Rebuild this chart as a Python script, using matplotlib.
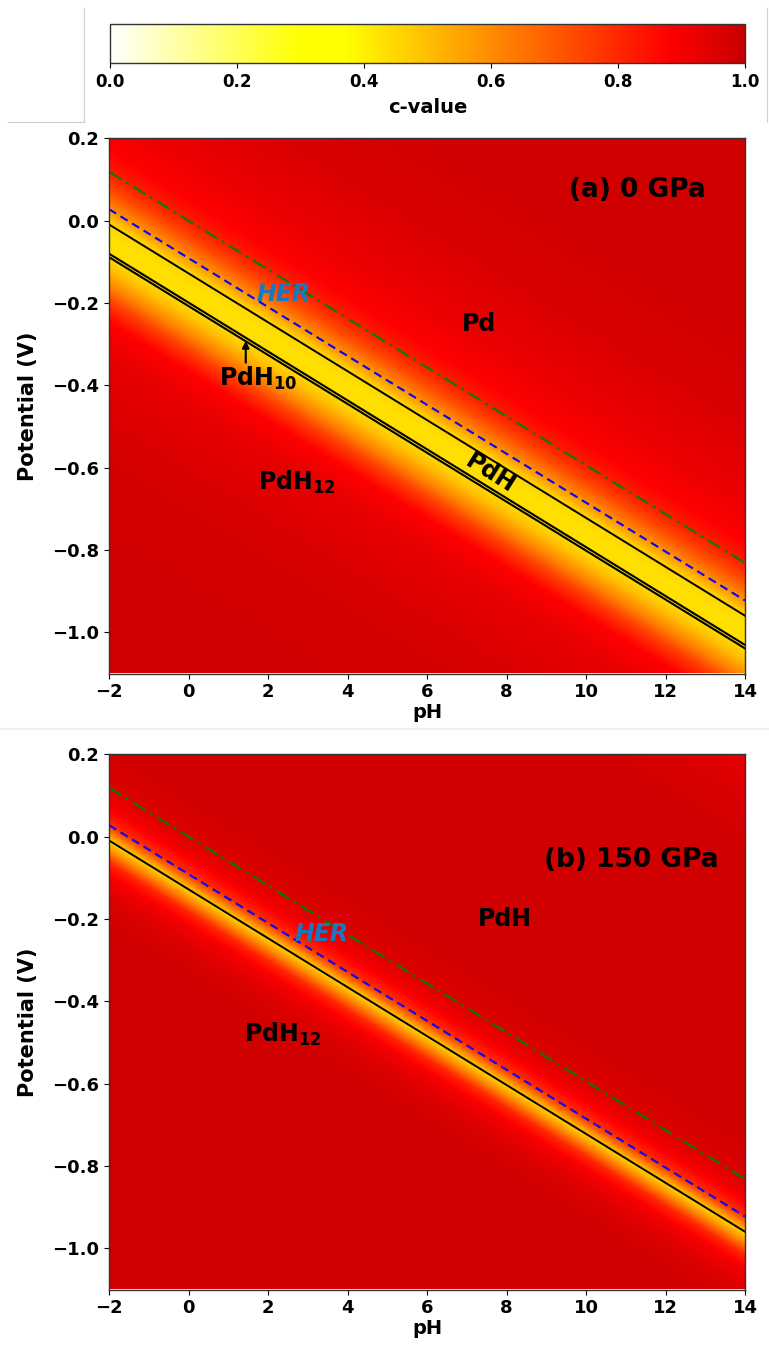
import numpy as np
import matplotlib
matplotlib.use("Agg")
import matplotlib.pyplot as plt
from matplotlib.colors import LinearSegmentedColormap
from matplotlib.lines import Line2D

# ---------------- data ----------------
ph_range = [-2, 14]
e_range = [-1.1, 0.2]
nernst_slope = 0.0594          # V per pH (lines E = b - slope*pH)

# line intercepts at pH 0 (V)
her_o2_intercept = 0.0         # green dash-dot
her_intercept = -0.091         # blue dashed (HER)
a_boundary_single = -0.128     # black solid
a_boundary_double = [-0.199, -0.2075]
b_boundary_single = -0.128

# c-value profile across the shifted potential u = E + slope*pH
a_profile_u = [-1.3, -0.7, -0.45, -0.37, -0.32, -0.28, -0.24, -0.207, -0.165,
               -0.128, -0.11, -0.09, -0.05, 0.0, 0.05, 0.15, 0.35, 0.6, 1.1]
a_profile_c = [0.98, 0.97, 0.93, 0.88, 0.76, 0.62, 0.5, 0.44, 0.43,
               0.45, 0.52, 0.6, 0.72, 0.83, 0.88, 0.92, 0.96, 0.98, 0.98]
b_profile_u = [-1.3, -0.34, -0.27, -0.22, -0.185, -0.155, -0.135, -0.128,
               -0.115, -0.09, -0.05, 0.0, 0.1, 0.8, 1.1]
b_profile_c = [0.98, 0.98, 0.95, 0.9, 0.8, 0.6, 0.48, 0.5,
               0.6, 0.8, 0.9, 0.95, 0.98, 0.98, 0.92]

cbar_ticks = [0.0, 0.2, 0.4, 0.6, 0.8, 1.0]
cmap_pos = [0.0, 0.3, 0.37, 0.6, 0.88, 1.0]
cmap_cols = ["#ffffff", "#ffff00", "#ffff00", "#ff8c00", "#ff0000", "#c80000"]

# ---------------- figure ----------------
W, H = 769, 1348
fig = plt.figure(figsize=(W / 100, H / 100), dpi=100)

cmap = LinearSegmentedColormap.from_list("cval", list(zip(cmap_pos, cmap_cols)))

def fx(px):
    return px / W

def fy(py):
    return 1 - py / H

ax_a = fig.add_axes([fx(109), fy(673.5), fx(745) - fx(109), fy(138.3) - fy(673.5)])
ax_b = fig.add_axes([fx(109), fy(1289.5), fx(745) - fx(109), fy(754.3) - fy(1289.5)])
cax = fig.add_axes([fx(110), fy(63), fx(745) - fx(110), fy(24) - fy(63)])

ph = np.linspace(ph_range[0], ph_range[1], 800)
ee = np.linspace(e_range[0], e_range[1], 700)
PH, EE = np.meshgrid(ph, ee)
U = EE + nernst_slope * PH


def line(b, x):
    return b - nernst_slope * np.asarray(x)


def draw_panel(ax, prof_u, prof_c, blacks, lws):
    C = np.interp(U, prof_u, prof_c)
    im = ax.imshow(C, extent=[ph_range[0], ph_range[1], e_range[0], e_range[1]],
                   origin="lower", aspect="auto", cmap=cmap, vmin=0, vmax=1,
                   interpolation="bilinear")
    xs = np.array(ph_range)
    ax.plot(xs, line(her_o2_intercept, xs), color="green", lw=1.5,
            ls=(0, (7, 2.5, 1.5, 2.5)))
    ax.plot(xs, line(her_intercept, xs), color="blue", lw=1.5,
            ls=(0, (4, 2.5)))
    for b, lw in zip(blacks, lws):
        ax.plot(xs, line(b, xs), color="black", lw=lw)
    ax.set_xlim(ph_range)
    ax.set_ylim(e_range)
    ax.set_xticks(range(-2, 15, 2))
    ax.set_yticks([0.2, 0.0, -0.2, -0.4, -0.6, -0.8, -1.0])
    ax.set_yticklabels(["0.2", "0.0", "\u22120.2", "\u22120.4", "\u22120.6",
                        "\u22120.8", "\u22121.0"])
    ax.set_xticklabels(["\u22122"] + [str(v) for v in range(0, 15, 2)])
    for lab in ax.get_xticklabels() + ax.get_yticklabels():
        lab.set_fontweight("bold")
        lab.set_fontsize(13)
    ax.set_xlabel("pH", fontsize=14, fontweight="bold", labelpad=1)
    ax.set_ylabel("Potential (V)", fontsize=15, fontweight="bold", labelpad=10)
    for s in ax.spines.values():
        s.set_linewidth(1.0)
        s.set_color("#333333")
    return im


im = draw_panel(ax_a, a_profile_u, a_profile_c,
                [a_boundary_single] + a_boundary_double, [1.4, 1.5, 1.5])
draw_panel(ax_b, b_profile_u, b_profile_c, [b_boundary_single], [1.4])

her_col = "#1a78c2"
# panel (a) labels
ax_a.text(11.3, 0.075, "(a) 0 GPa", fontsize=19, fontweight="bold", ha="center", va="center")
ax_a.text(2.4, -0.178, "HER", fontsize=17, fontweight="bold", style="italic",
          color=her_col, ha="center", va="center")
ax_a.text(7.3, -0.25, "Pd", fontsize=17, fontweight="bold", ha="center", va="center")
ax_a.text(1.75, -0.383, r"PdH$_\mathbf{10}$", fontsize=17, fontweight="bold",
          ha="center", va="center")
ax_a.annotate("", xy=(1.44, -0.292), xytext=(1.44, -0.345),
              arrowprops=dict(arrowstyle="-|>", color="black", lw=1.5,
                              mutation_scale=10, shrinkA=0, shrinkB=0))
ax_a.text(2.73, -0.635, r"PdH$_\mathbf{12}$", fontsize=17, fontweight="bold",
          ha="center", va="center")
ax_a.text(7.6, -0.615, "PdH", fontsize=17, fontweight="bold", ha="center",
          va="center", rotation=-32, rotation_mode="anchor")

# panel (b) labels
ax_b.text(11.15, -0.057, "(b) 150 GPa", fontsize=19, fontweight="bold", ha="center", va="center")
ax_b.text(3.36, -0.237, "HER", fontsize=17, fontweight="bold", style="italic",
          color=her_col, ha="center", va="center")
ax_b.text(7.96, -0.2, "PdH", fontsize=17, fontweight="bold", ha="center", va="center")
ax_b.text(2.38, -0.48, r"PdH$_\mathbf{12}$", fontsize=17, fontweight="bold",
          ha="center", va="center")

# colorbar
cb = fig.colorbar(im, cax=cax, orientation="horizontal", ticks=cbar_ticks)
cb.ax.set_xticklabels([f"{t:.1f}" for t in cbar_ticks], fontsize=12, fontweight="bold")
cb.set_label("c-value", fontsize=14, fontweight="bold", labelpad=5)
cb.outline.set_linewidth(1.0)
cb.outline.set_edgecolor("#333333")

# faint frame lines from the composite image
gray = "#cfcfcf"
fig.add_artist(Line2D([fx(84), fx(84)], [fy(8), fy(122)], color=gray, lw=0.8))
fig.add_artist(Line2D([fx(8), fx(84)], [fy(122), fy(122)], color=gray, lw=0.8))
fig.add_artist(Line2D([fx(767), fx(767)], [fy(8), fy(122)], color=gray, lw=0.8))
fig.add_artist(Line2D([0, 1], [fy(729), fy(729)], color="#efefef", lw=1.5))

fig.savefig("out.png", dpi=100)
